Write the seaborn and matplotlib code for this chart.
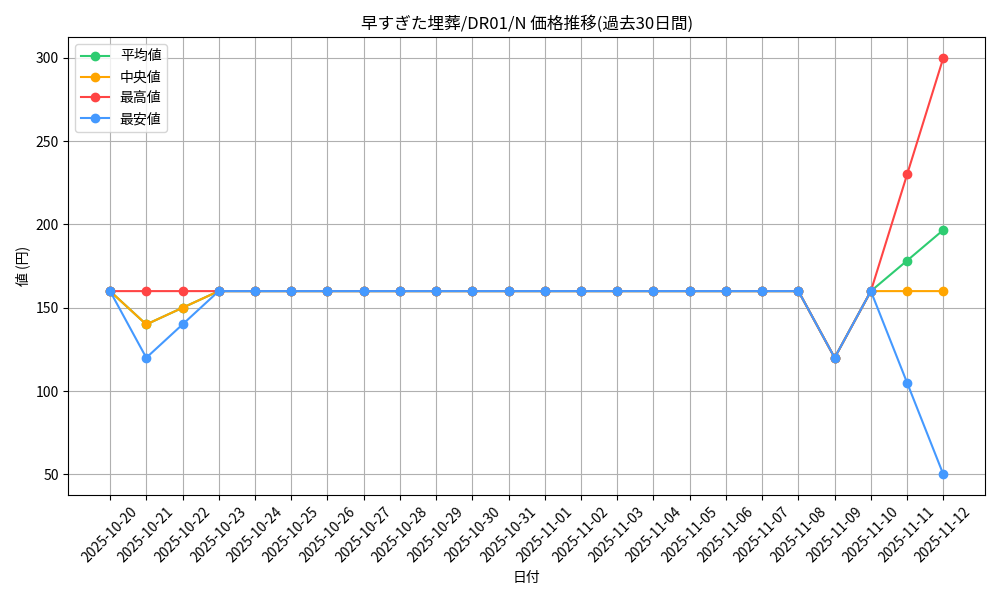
import pandas as pd
import seaborn as sns
import matplotlib.pyplot as plt

plt.rcParams['font.family'] = ['Noto Sans CJK JP', 'DejaVu Sans']

# data
dates = ['2025-10-20', '2025-10-21', '2025-10-22', '2025-10-23', '2025-10-24', '2025-10-25',
         '2025-10-26', '2025-10-27', '2025-10-28', '2025-10-29', '2025-10-30', '2025-10-31',
         '2025-11-01', '2025-11-02', '2025-11-03', '2025-11-04', '2025-11-05', '2025-11-06',
         '2025-11-07', '2025-11-08', '2025-11-09', '2025-11-10', '2025-11-11', '2025-11-12']
mean_vals = [160, 140, 150, 160, 160, 160, 160, 160, 160, 160, 160, 160,
             160, 160, 160, 160, 160, 160, 160, 160, 120, 160, 178.3, 196.7]
median_vals = [160, 140, 150, 160, 160, 160, 160, 160, 160, 160, 160, 160,
               160, 160, 160, 160, 160, 160, 160, 160, 120, 160, 160, 160]
max_vals = [160, 160, 160, 160, 160, 160, 160, 160, 160, 160, 160, 160,
            160, 160, 160, 160, 160, 160, 160, 160, 120, 160, 230, 300]
min_vals = [160, 120, 140, 160, 160, 160, 160, 160, 160, 160, 160, 160,
            160, 160, 160, 160, 160, 160, 160, 160, 120, 160, 105, 50]

series = [('平均値', mean_vals, '#2ecc71'),
          ('中央値', median_vals, '#ffa500'),
          ('最高値', max_vals, '#ff4444'),
          ('最安値', min_vals, '#4499ff')]

fig, ax = plt.subplots(figsize=(10, 6), dpi=100)

for name, vals, col in series:
    df = pd.DataFrame({'date': dates, 'value': vals})
    sns.lineplot(data=df, x='date', y='value', ax=ax, color=col, label=name,
                 marker='o', markersize=6, markeredgecolor=col,
                 markeredgewidth=1, linewidth=1.5)

ax.set_title('早すぎた埋葬/DR01/N 価格推移(過去30日間)')
ax.set_xlabel('日付')
ax.set_ylabel('値 (円)')
ax.grid(True)
plt.xticks(rotation=45)
ax.legend(loc='upper left')
plt.tight_layout()
plt.savefig('out.png')
